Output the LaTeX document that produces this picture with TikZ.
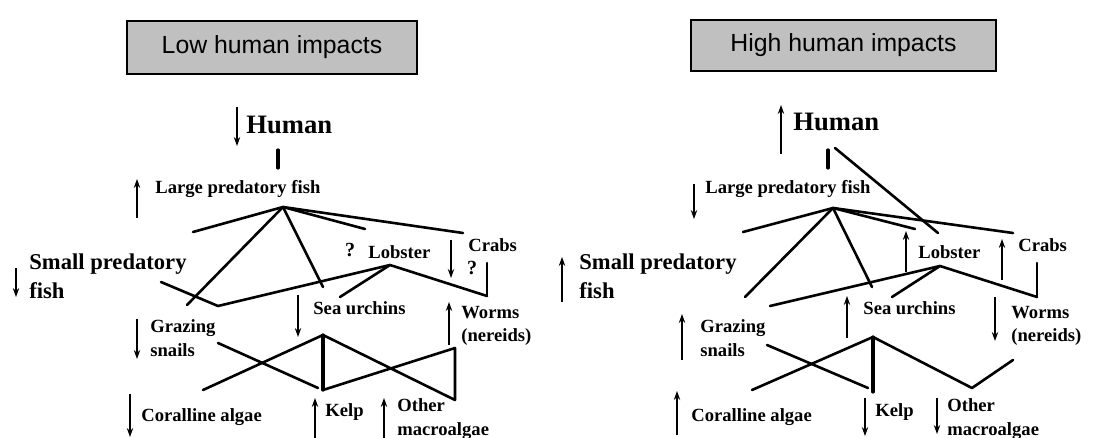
\documentclass[tikz,border=0pt]{standalone}
\usepackage{fontspec}
\setmainfont{Liberation Serif}
\newfontfamily\boxfont{Liberation Sans}
\usetikzlibrary{arrows.meta}
\definecolor{BoxGray}{RGB}{192, 192, 192}

\begin{document}
\begin{tikzpicture}[x=0.5pt, y=-0.5pt,
    web/.style={line width=1.3pt, line cap=round, line join=round},
    thickweb/.style={line width=1.6pt, line cap=round},
    ind/.style={line width=0.75pt, -{Stealth[length=4.5pt, width=3.2pt]}},
    lab/.style={anchor=west, inner sep=0pt, align=left,
      font=\fontsize{9.3}{11.8}\selectfont\bfseries},
    biglab/.style={anchor=west, inner sep=0pt, align=left,
      font=\fontsize{11.3}{14.5}\selectfont\bfseries},
    toplab/.style={anchor=west, inner sep=0pt,
      font=\fontsize{13.3}{15}\selectfont\bfseries},
    qmark/.style={inner sep=0pt, font=\fontsize{10}{12}\selectfont\bfseries},
    titlebox/.style={draw, line width=1.3pt, fill=BoxGray, inner sep=0pt,
      font=\boxfont\fontsize{12.4}{14}\selectfont}]
    \useasboundingbox (0,0) rectangle (1109,438);
    \fill[white] (0,0) rectangle (1109,438);

    % Low human impacts
    \begin{scope}[name prefix=L-]
      \node[titlebox, minimum width=145pt, minimum height=26.5pt] (title) at (272,47.5) {Low human impacts};

      \node[toplab] (human) at (246,125) {Human};
      \node[lab] (lpf) at (155,189) {Large predatory fish};
      \node[biglab] (spf) at (29,276.5) {Small predatory\\fish};
      \node[lab] (lobster) at (368,252) {Lobster};
      \node[lab] (crabs) at (468,245) {Crabs};
      \node[lab] (urchins) at (313,308) {Sea urchins};
      \node[lab] (worms) at (461,326) {Worms\\(nereids)};
      \node[lab] (snails) at (150,338) {Grazing\\snails};
      \node[lab] (coralline) at (141,417) {Coralline algae};
      \node[lab] (kelp) at (325,412) {Kelp};
      \node[lab] (other) at (397,419) {Other\\macroalgae};
      \node[qmark] (qlob) at (350,250) {?};
      \node[qmark] (qcrab) at (472,268) {?};

      % up / down indicators
      \draw[ind] (237,107) -- (237,146);
      \draw[ind] (137,218) -- (137,179);
      \draw[ind] (16,268) -- (16,297);
      \draw[ind] (451,240) -- (451,278);
      \draw[ind] (298,295) -- (298,337);
      \draw[ind] (449,345) -- (449,302);
      \draw[ind] (137,319) -- (137,359);
      \draw[ind] (130,394) -- (130,437);
      \draw[ind] (315,438) -- (315,398);
      \draw[ind] (384,438) -- (384,398);

      % web points
      \coordinate (hs) at (278,150);
      \coordinate (he) at (278,168);
      \coordinate (hub) at (283,207);
      \coordinate (tospf) at (193,232);
      \coordinate (tosnail) at (187,305);
      \coordinate (tourch) at (323,287);
      \coordinate (tolob) at (365,229);
      \coordinate (tocrab) at (463,233);
      \coordinate (spfend) at (161,282);
      \coordinate (vee) at (218,306);
      \coordinate (lobhub) at (390,265);
      \coordinate (lobur) at (340,297);
      \coordinate (wormtop) at (487,296);
      \coordinate (crabbot) at (487,263);
      \coordinate (urhub) at (323,335);
      \coordinate (snailend) at (218,343);
      \coordinate (kelpleft) at (318,388);
      \coordinate (corend) at (203,390);
      \coordinate (kelptop) at (323,390);
      \coordinate (wormbot) at (455,348);
      \coordinate (otherend) at (455,400);

      \draw[thickweb] (hs) -- (he);
      \draw[web] (hub) -- (tospf);
      \draw[web] (hub) -- (tosnail);
      \draw[web] (hub) -- (tourch);
      \draw[web] (hub) -- (tolob);
      \draw[web] (hub) -- (tocrab);
      \draw[web] (spfend) -- (vee) -- (lobhub) -- (wormtop);
      \draw[web] (lobhub) -- (lobur);
      \draw[web] (crabbot) -- (wormtop);
      \draw[web] (snailend) -- (kelpleft);
      \draw[web] (corend) -- (urhub);
      \draw[thickweb] (urhub) -- (kelptop);
      \draw[web] (kelptop) -- (wormbot) -- (otherend) -- (urhub);
    \end{scope}

    % High human impacts
    \begin{scope}[shift={(550,0)}, name prefix=H-]
      \node[titlebox, minimum width=152.5pt, minimum height=25.5pt] (title) at (293.5,45.5) {High human impacts};

      \node[toplab] (human) at (243,122) {Human};
      \node[lab] (lpf) at (155,189) {Large predatory fish};
      \node[biglab] (spf) at (29,276.5) {Small predatory\\fish};
      \node[lab] (lobster) at (368,252) {Lobster};
      \node[lab] (crabs) at (468,245) {Crabs};
      \node[lab] (urchins) at (313,308) {Sea urchins};
      \node[lab] (worms) at (461,326) {Worms\\(nereids)};
      \node[lab] (snails) at (150,338) {Grazing\\snails};
      \node[lab] (coralline) at (141,417) {Coralline algae};
      \node[lab] (kelp) at (325,412) {Kelp};
      \node[lab] (other) at (397,419) {Other\\macroalgae};

      % up / down indicators
      \draw[ind] (231,154) -- (231,105);
      \draw[ind] (144,184) -- (144,219);
      \draw[ind] (12,302) -- (12,257);
      \draw[ind] (356,272) -- (356,231);
      \draw[ind] (452,280) -- (452,239);
      \draw[ind] (297,338) -- (297,296);
      \draw[ind] (445,297) -- (445,341);
      \draw[ind] (132,360) -- (132,314);
      \draw[ind] (127,435) -- (127,391);
      \draw[ind] (315,398) -- (315,436);
      \draw[ind] (387,398) -- (387,434);

      % web points
      \coordinate (hs) at (278,150);
      \coordinate (he) at (278,168);
      \coordinate (hd) at (285,148);
      \coordinate (hlob) at (388,233);
      \coordinate (hub) at (283,208);
      \coordinate (tospf) at (193,232);
      \coordinate (tosnail) at (195,297);
      \coordinate (tourch) at (322,287);
      \coordinate (tolob) at (365,229);
      \coordinate (tocrab) at (463,233);
      \coordinate (vee) at (220,306);
      \coordinate (lobhub) at (390,266);
      \coordinate (lobur) at (342,297);
      \coordinate (wormtop) at (487,297);
      \coordinate (crabbot) at (487,263);
      \coordinate (urhub) at (323,337);
      \coordinate (snailend) at (217,345);
      \coordinate (kelpleft) at (318,388);
      \coordinate (corend) at (202,390);
      \coordinate (kelptop) at (323,392);
      \coordinate (othervee) at (422,388);
      \coordinate (wormbot) at (463,360);

      \draw[thickweb] (hs) -- (he);
      \draw[web] (hd) -- (hlob);
      \draw[web] (hub) -- (tospf);
      \draw[web] (hub) -- (tosnail);
      \draw[web] (hub) -- (tourch);
      \draw[web] (hub) -- (tolob);
      \draw[web] (hub) -- (tocrab);
      \draw[web] (vee) -- (lobhub) -- (wormtop);
      \draw[web] (lobhub) -- (lobur);
      \draw[web] (crabbot) -- (wormtop);
      \draw[web] (snailend) -- (kelpleft);
      \draw[web] (corend) -- (urhub);
      \draw[thickweb] (urhub) -- (kelptop);
      \draw[web] (urhub) -- (othervee) -- (wormbot);
    \end{scope}
  \end{tikzpicture}
\end{document}
